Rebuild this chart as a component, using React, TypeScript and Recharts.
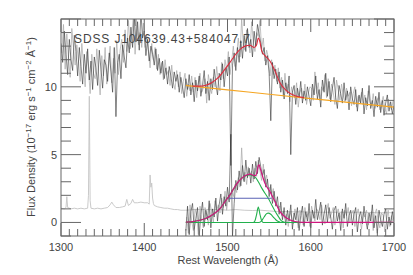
import { ComposedChart, Line, XAxis, YAxis } from 'recharts';

const title = 'SDSS J104639.43+584047.7';
const xLabels = [1300, 1400, 1500, 1600, 1700];
const yLabels = [0, 5, 10];

// observed spectrum, 2 A bins starting at 1300
const specBlack = [
  13.2, 11.8, 14.1, 12.4, 10.9, 13.5, 12.0, 11.2, 13.8, 12.6,
  10.8, 12.9, 11.5, 10.2, 12.4, 11.0, 12.8, 10.5, 11.9, 9.8,
  12.2, 11.4, 10.1, 12.7, 11.3, 9.9, 12.0, 11.6, 10.4, 12.5,
  11.1, 9.6, 12.9, 7.8, 11.8, 12.4, 10.6, 13.1, 12.2, 11.4,
  13.6, 12.5, 14.4, 12.9, 15.2, 13.3, 14.8, 12.7, 15.5, 13.6,
  14.1, 12.3, 13.5, 11.9, 13.0, 12.4, 11.6, 12.8, 11.2, 12.1,
  11.0, 11.9, 10.6, 11.4, 10.2, 11.5, 10.8, 9.9, 11.1, 10.4,
  10.9, 9.6, 10.7, 10.0, 9.2, 10.6, 9.8, 10.9, 9.4, 10.3,
  8.9, 10.5, 9.7, 10.8, 9.3, 10.1, 11.2, 9.5, 10.4, 9.0,
  10.6, 9.8, 11.3, 10.2, 9.4, 11.0, 10.5, 11.7, 10.0, 11.4,
  10.8, 12.2, 4.2, 11.6, 12.5, 11.2, 12.9, 11.8, 13.4, 12.1,
  13.8, 12.6, 14.3, 12.9, 13.5, 12.2, 14.1, 13.0, 14.6, 13.9,
  13.2, 12.4, 12.9, 11.6, 12.3, 11.0, 7.5, 11.8, 10.6, 11.3,
  10.2, 11.1, 9.6, 10.5, 9.1, 10.3, 9.5, 10.8, 5.0, 9.6,
  10.1, 8.7, 9.9, 9.2, 10.4, 8.8, 9.7, 9.0, 10.0, 9.3,
  8.6, 10.2, 9.4, 10.8, 9.1, 9.8, 8.5, 10.5, 9.6, 11.0,
  9.3, 10.4, 8.9, 9.9, 10.7, 9.2, 8.4, 10.1, 9.5, 8.8,
  10.3, 9.0, 9.7, 8.3, 10.0, 9.1, 8.7, 9.8, 8.2, 9.4,
  8.8, 9.9, 8.0, 9.2, 8.6, 10.1, 8.4, 9.0, 7.8, 9.3,
  8.5, 9.6, 8.1, 9.0, 7.9, 8.8, 9.4, 8.2, 8.9, 8.0,
  8.6,
];

// second spectrum (grey), 2 A bins starting at 1301
const specGray = [
  12.5, 14.6, 11.3, 13.9, 12.2, 10.7, 14.3, 12.9, 11.6, 13.1,
  11.9, 10.4, 13.2, 11.7, 10.0, 12.6, 11.3, 9.5, 12.4, 11.0,
  10.6, 12.8, 11.1, 9.4, 12.3, 10.8, 12.9, 10.2, 11.7, 13.0,
  10.3, 12.1, 11.0, 13.4, 10.9, 12.7, 13.5, 11.8, 14.2, 12.6,
  14.9, 12.8, 13.7, 15.3, 12.4, 14.5, 13.1, 14.0, 12.9, 14.7,
  12.9, 13.8, 12.6, 11.4, 13.2, 12.0, 12.9, 11.3, 12.4, 10.9,
  11.8, 10.5, 12.0, 10.9, 11.2, 10.1, 11.6, 10.3, 9.8, 11.2,
  10.0, 11.1, 9.5, 10.4, 11.0, 9.3, 10.2, 9.7, 10.8, 9.6,
  10.7, 9.2, 10.3, 11.0, 9.6, 9.9, 10.6, 8.8, 10.9, 10.1,
  9.5, 10.7, 10.0, 11.5, 10.3, 9.7, 11.8, 10.6, 12.0, 11.2,
  12.6, 10.9, 11.9, 13.0, 11.5, 12.4, 13.6, 12.2, 15.0, 13.1,
  12.7, 14.2, 13.4, 12.5, 14.8, 13.3, 12.6, 14.0, 13.7, 14.9,
  12.8, 13.6, 11.9, 12.7, 12.2, 10.8, 12.0, 10.9, 11.6, 10.4,
  11.4, 9.9, 10.7, 9.3, 11.0, 9.7, 10.2, 8.9, 10.0, 9.4,
  9.2, 10.3, 8.5, 9.6, 9.9, 9.1, 10.2, 8.7, 9.5, 10.0,
  9.9, 9.0, 11.1, 9.5, 10.3, 9.0, 10.0, 9.7, 10.9, 9.2,
  10.6, 9.1, 10.2, 9.6, 8.7, 10.5, 9.8, 9.0, 10.2, 9.4,
  8.9, 9.9, 9.3, 9.6, 8.6, 9.5, 10.0, 8.5, 9.3, 8.9,
  9.6, 8.7, 9.4, 8.3, 9.7, 8.9, 8.6, 9.5, 8.4, 8.9,
  9.2, 8.3, 8.8, 9.3, 8.4, 8.0, 9.1, 8.6, 8.3, 9.0,
];

// continuum-subtracted spectrum, 2 A bins starting at 1450
const residBlack = [
  -0.6, 1.2, -0.9, 0.8, 1.4, -0.5, 0.3, 1.1, -1.0, 0.6,
  1.5, -0.3, 0.9, 0.2, 1.6, -0.4, 1.0, 0.4, 1.8, 0.1,
  1.3, 2.1, 0.6, 1.9, 1.2, 2.6, 1.5, 6.5, -1.0, 1.4,
  3.1, 2.4, 3.8, 2.7, 4.2, 3.0, 4.6, 3.3, 4.0, 2.9,
  4.3, 3.2, 4.5, 3.6, 4.8, 4.1, 3.4, 3.9, 2.6, 3.2,
  1.9, 2.8, 1.4, 2.3, 1.2, 1.9, 0.6, 1.5, 0.2, 1.1,
  -0.2, 0.9, 0.1, 1.3, -0.5, 0.7, 0.2, 1.1, -0.6, 0.5,
  1.2, -0.3, 0.8, 0.1, 1.4, -0.4, 0.9, 0.3, 1.7, 0.2,
  0.8, 1.5, -0.2, 0.6, 1.3, 0.0, 1.1, 0.4, -0.5, 0.9,
  1.2, 0.1, 0.7, -0.6, 1.0, 0.3, 1.4, -0.3, 0.5, 0.9,
  -0.2, 0.6, 1.1, -0.7, 0.4, 0.8, -0.1, 1.2, 0.2, -0.5,
  0.7, 0.1, 1.3, -0.4, 0.5, -0.8, 0.9, 0.2, -0.3, 0.6,
  1.0, -0.5, 0.4, -0.2, 0.8, 0.1,
];

// continuum-subtracted second spectrum (grey), 2 A bins starting at 1451
const residGray = [
  0.4, -0.8, 1.3, 0.1, -0.6, 1.0, 0.5, -0.9, 1.2, 0.2,
  -0.4, 1.1, 0.6, -0.2, 1.4, 0.8, 0.0, 1.6, 0.9, 1.3,
  0.7, 1.8, 1.1, 2.3, 0.9, 2.0, 1.7, 2.4, 1.9, 2.8,
  2.2, 3.3, 2.6, 5.5, 3.1, 3.7, 2.8, 4.1, 3.5, 3.8,
  3.0, 4.0, 3.4, 4.6, 3.8, 3.1, 4.3, 3.0, 3.5, 2.4,
  2.6, 2.0, 2.5, 1.6, 1.4, 1.1, 1.2, 0.5, 0.8, 0.3,
  0.6, -0.3, 0.8, 0.4, -0.1, 1.0, 0.3, -0.4, 0.9, 0.5,
  -0.2, 1.1, 0.4, 0.7, -0.3, 1.2, 0.6, 0.1, 1.0, 0.8,
  0.2, 1.3, 0.5, -0.1, 0.9, 1.4, 0.3, 0.7, 1.1, -0.2,
  0.6, 1.0, 0.2, 0.8, -0.4, 0.9, 0.5, 1.1, 0.0, 0.6,
  0.9, -0.3, 0.5, 1.0, 0.2, -0.5, 0.7, 0.4, 0.9, -0.2,
  0.3, 0.8, -0.6, 0.6, 1.0, 0.1, -0.4, 0.7, 0.5, -0.7,
  0.2, 0.9, -0.3, 0.5, 0.0,
];

// comparison composite (light grey)
const compWave = [
  1300, 1304, 1306, 1307, 1308, 1312, 1316, 1320, 1324, 1328, 1332, 1333, 1334, 1335, 1336,
  1340, 1344, 1348, 1352, 1356, 1359, 1361, 1363, 1366, 1370, 1374, 1377, 1379, 1381, 1384,
  1386, 1388, 1392, 1396, 1400, 1404, 1406, 1407, 1408, 1409, 1410, 1411, 1412, 1416, 1420,
  1424, 1428, 1432, 1436, 1440, 1444, 1450, 1460, 1470, 1480, 1490, 1500, 1510, 1520, 1530,
  1540, 1550, 1560, 1570, 1580, 1590, 1600, 1620, 1640, 1660, 1680, 1700,
];
const compFlux = [
  1.05, 1.0, 1.1, 1.9, 1.1, 1.0, 1.05, 1.0, 1.05, 1.0, 1.05, 2.0, 9.3, 1.6, 1.05,
  1.0, 1.05, 1.0, 1.05, 1.1, 1.3, 1.5, 1.3, 1.1, 1.1, 1.15, 1.2, 1.7, 1.25, 1.4,
  1.7, 1.45, 1.45, 1.5, 1.45, 1.45, 1.35, 3.5, 2.6, 2.9, 1.8, 1.4, 1.25, 1.15, 1.1,
  1.05, 1.05, 1.0, 0.95, 0.95, 0.9, 0.9, 0.95, 0.95, 0.95, 0.95, 0.9, 0.95, 0.9, 0.88,
  0.9, 0.85, 0.8, 0.8, 0.78, 0.78, 0.75, 0.75, 0.75, 0.75, 0.72, 0.72,
];

const contWave = [1450, 1500, 1550, 1600, 1650, 1700];
const contFlux = [10.1, 9.78, 9.45, 9.13, 8.82, 8.5];

const fitWave = [1458, 1466, 1474, 1481, 1490, 1497, 1503, 1508, 1513, 1517, 1521, 1527, 1532, 1535, 1537, 1539, 1541, 1545, 1551, 1557, 1563, 1571, 1581, 1592];
const fitFlux = [10.05, 10.05, 10.12, 10.3, 10.75, 11.3, 11.8, 12.25, 12.63, 12.85, 13.0, 13.07, 12.9, 13.1, 13.6, 13.3, 12.65, 12.3, 11.9, 11.17, 10.3, 9.7, 9.34, 9.2];

const lineWave = [1450, 1460, 1473, 1485, 1492, 1497, 1503, 1508, 1513, 1517, 1521, 1527, 1533, 1535, 1537, 1538, 1539, 1541, 1545, 1551, 1557, 1563, 1571, 1581, 1590, 1600, 1700];
const lineFlux = [0.02, 0.08, 0.27, 0.69, 1.1, 1.54, 2.03, 2.55, 3.0, 3.25, 3.44, 3.56, 3.44, 3.6, 4.2, 4.25, 4.05, 3.63, 2.88, 2.27, 1.54, 0.8, 0.32, 0.07, 0.01, 0, 0];

const broadWave = [1450, 1460, 1473, 1485, 1492, 1497, 1503, 1508, 1513, 1517, 1521, 1527, 1533, 1537, 1541, 1545, 1549, 1553, 1557, 1561, 1565, 1570, 1700];
const broadFlux = [0.02, 0.08, 0.27, 0.69, 1.1, 1.54, 2.03, 2.55, 3.0, 3.25, 3.42, 3.5, 3.36, 3.0, 2.55, 2.15, 1.78, 1.3, 0.85, 0.45, 0.1, 0, 0];

const narrow1Wave = [1450, 1531, 1533, 1535, 1537, 1539, 1541, 1543, 1700];
const narrow1Flux = [0, 0, 0.12, 0.6, 1.13, 0.6, 0.12, 0, 0];

const narrow2Wave = [1450, 1538, 1541, 1544, 1547, 1549, 1552, 1555, 1558, 1561, 1564, 1700];
const narrow2Flux = [0, 0, 0.12, 0.4, 0.65, 0.69, 0.6, 0.4, 0.2, 0.07, 0, 0];

const fwhmWave = [1502, 1553];
const fwhmFlux = [1.78, 1.78];

const pts = (w: number[], f: number[]) => w.map((x, i) => ({ w: x, f: f[i] }));
const bins = (start: number, step: number, f: number[]) => f.map((v, i) => ({ w: start + i * step, f: v }));

const xTicks: number[] = [];
for (let v = 1300; v <= 1700; v += 10) xTicks.push(v);
const yTicks: number[] = [];
for (let v = -1; v <= 15; v += 1) yTicks.push(v);

const AX = '#666';
const TXT = '#444';
const FONT = '"Liberation Sans", Arial, sans-serif';

// plot box
const L = 61, R = 394, T = 19, B = 236;

const BottomTick = (p: any) => {
  const v = p.payload.value;
  const major = v % 100 === 0;
  return (
    <g>
      <line x1={p.x} x2={p.x} y1={B} y2={B - (major ? 13 : 7)} stroke={AX} />
      {xLabels.includes(v) && (
        <text x={p.x} y={B + 15} textAnchor="middle" fontSize={11} fill={TXT} fontFamily={FONT}>{v}</text>
      )}
    </g>
  );
};
const TopTick = (p: any) => {
  const major = p.payload.value % 100 === 0;
  return <line x1={p.x} x2={p.x} y1={T} y2={T + (major ? 13 : 7)} stroke={AX} />;
};
const LeftTick = (p: any) => {
  const v = p.payload.value;
  const major = v % 5 === 0;
  return (
    <g>
      <line x1={L} x2={L + (major ? 20 : 10)} y1={p.y} y2={p.y} stroke={AX} />
      {yLabels.includes(v) && (
        <text x={L - 4} y={p.y + 4} textAnchor="end" fontSize={11} fill={TXT} fontFamily={FONT}>{v}</text>
      )}
    </g>
  );
};
const RightTick = (p: any) => {
  const major = p.payload.value % 5 === 0;
  return <line x1={R} x2={R - (major ? 20 : 10)} y1={p.y} y2={p.y} stroke={AX} />;
};

export default function App() {
  const series = [
    { d: pts(compWave, compFlux), c: '#c4c4c4', w: 0.9, t: 'linear' },
    { d: bins(1301, 2, specGray), c: '#a8a8a8', w: 0.7, t: 'linear' },
    { d: bins(1300, 2, specBlack), c: '#333', w: 0.6, t: 'linear' },
    { d: bins(1451, 2, residGray), c: '#a8a8a8', w: 0.7, t: 'linear' },
    { d: bins(1450, 2, residBlack), c: '#333', w: 0.6, t: 'linear' },
    { d: pts(contWave, contFlux), c: '#f5a623', w: 1.2, t: 'monotone' },
    { d: pts(fitWave, fitFlux), c: '#dd2a3c', w: 1.1, t: 'monotone' },
    { d: pts(broadWave, broadFlux), c: '#22b04c', w: 1.1, t: 'monotone' },
    { d: pts(narrow1Wave, narrow1Flux), c: '#22b04c', w: 1.1, t: 'monotone' },
    { d: pts(narrow2Wave, narrow2Flux), c: '#22b04c', w: 1.1, t: 'monotone' },
    { d: pts(fwhmWave, fwhmFlux), c: '#5a62b4', w: 1.1, t: 'linear' },
    { d: pts(lineWave, lineFlux), c: '#d0167e', w: 1.2, t: 'monotone' },
  ];
  return (
    <div style={{ position: 'absolute', left: 0, top: 0, width: 413, height: 275, background: '#fff' }}>
      <ComposedChart width={413} height={275} margin={{ top: T - 1, right: 413 - R - 1, bottom: 275 - B - 1, left: L - 1 }}>
        <XAxis xAxisId="b" dataKey="w" type="number" domain={[1300, 1700]} allowDataOverflow ticks={xTicks} interval={0}
          height={1} tickSize={0} tickMargin={0} tick={<BottomTick />} axisLine={false} tickLine={false} />
        <XAxis xAxisId="t" orientation="top" dataKey="w" type="number" domain={[1300, 1700]} allowDataOverflow ticks={xTicks} interval={0}
          height={1} tickSize={0} tickMargin={0} tick={<TopTick />} axisLine={false} tickLine={false} />
        <YAxis yAxisId="l" type="number" domain={[-1, 15]} allowDataOverflow ticks={yTicks} interval={0}
          width={1} tickSize={0} tickMargin={0} tick={<LeftTick />} axisLine={false} tickLine={false} />
        <YAxis yAxisId="r" orientation="right" type="number" domain={[-1, 15]} allowDataOverflow ticks={yTicks} interval={0}
          width={1} tickSize={0} tickMargin={0} tick={<RightTick />} axisLine={false} tickLine={false} />
        {series.map((s, i) => (
          <Line key={i} xAxisId="b" yAxisId="l" data={s.d} dataKey="f" type={s.t as any} stroke={s.c}
            strokeWidth={s.w} dot={false} activeDot={false} isAnimationActive={false} />
        ))}
      </ComposedChart>
      <svg width={413} height={275} style={{ position: 'absolute', left: 0, top: 0, pointerEvents: 'none' }}>
        <rect x={L} y={T} width={R - L} height={B - T} fill="none" stroke={AX} />
        <text x={74} y={43} fontSize={12} fill={TXT} fontFamily={FONT} textLength={176} lengthAdjust="spacing">{title}</text>
        <text x={228} y={264} textAnchor="middle" fontSize={11} fill={TXT} fontFamily={FONT} textLength={101} lengthAdjust="spacing">
          Rest Wavelength (Å)
        </text>
        <text transform="translate(35,127) rotate(-90)" textAnchor="middle" fontSize={11} fill={TXT} fontFamily={FONT}>
          Flux Density (10<tspan dy={-4} fontSize={8}>−17</tspan>
          <tspan dy={4}> erg s</tspan><tspan dy={-4} fontSize={8}>−1</tspan>
          <tspan dy={4}> cm</tspan><tspan dy={-4} fontSize={8}>−2</tspan>
          <tspan dy={4}> Å</tspan><tspan dy={-4} fontSize={8}>−1</tspan>
          <tspan dy={4}>)</tspan>
        </text>
      </svg>
    </div>
  );
}
